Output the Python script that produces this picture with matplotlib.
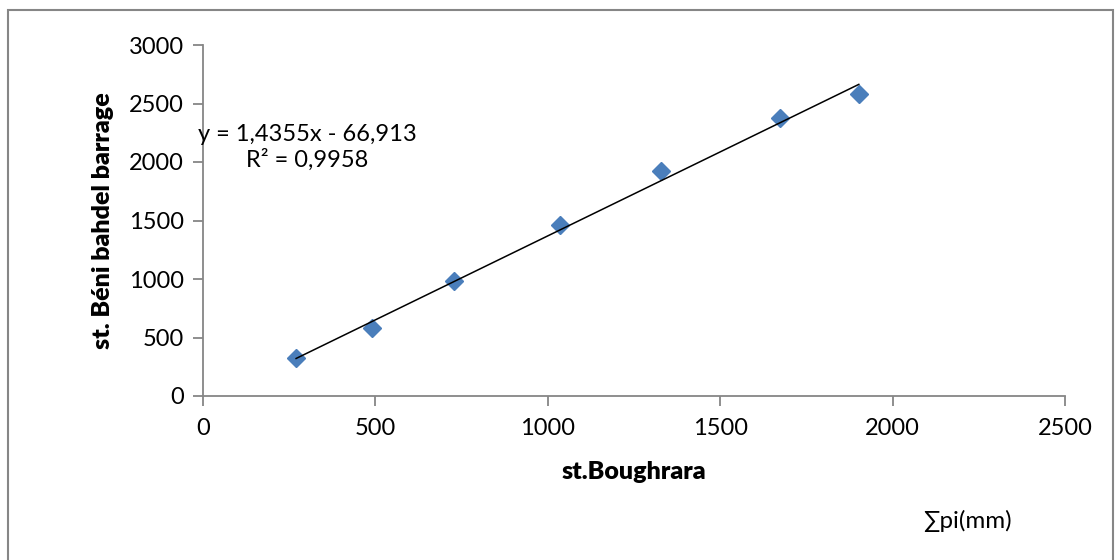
import matplotlib
matplotlib.use("Agg")
import matplotlib.pyplot as plt
from matplotlib.patches import Rectangle
import numpy as np

plt.rcParams['font.family'] = ['Lato', 'DejaVu Sans']

# Cumulative rainfall (mm)
boughrara = [270, 490, 728, 1035, 1328, 1673, 1902]
beni_bahdel = [325, 580, 980, 1460, 1920, 2375, 2580]

# trend line as given on the chart
slope = 1.4355
intercept = -66.913
eq_text = "y = 1,4355x - 66,913\nR² = 0,9958"

x_ticks = [0, 500, 1000, 1500, 2000, 2500]
y_ticks = [0, 500, 1000, 1500, 2000, 2500, 3000]

W, H = 1118, 560
fig = plt.figure(figsize=(W / 100, H / 100), dpi=100)
ax = fig.add_axes([203 / W, 1 - 396 / H, (1065 - 203) / W, (396 - 45) / H])

grey = "#868686"

xs = np.array([min(boughrara), max(boughrara)])
ax.plot(xs, slope * xs + intercept, color="black", lw=1.1, zorder=3)
ax.plot(boughrara, beni_bahdel, linestyle="none", marker="D", ms=8.7,
        color="#4a7ebb", zorder=2)

ax.set_xlim(0, 2500)
ax.set_ylim(0, 3000)
ax.set_xticks(x_ticks)
ax.set_yticks(y_ticks)
ax.tick_params(labelsize=17, colors=grey, labelcolor="black",
               length=7, width=1.3, direction="out")
ax.tick_params(axis="x", pad=9)
ax.tick_params(axis="y", pad=7)
for s in ["top", "right"]:
    ax.spines[s].set_visible(False)
for s in ["left", "bottom"]:
    ax.spines[s].set_color(grey)
    ax.spines[s].set_linewidth(1.3)

ax.set_xlabel("st.Boughrara", fontsize=18, fontweight="heavy")
ax.set_ylabel("st. Béni bahdel barrage", fontsize=18, fontweight="heavy")
ax.xaxis.set_label_coords(0.5, -0.2165)
ax.yaxis.set_label_coords(-0.116, 0.5)
ax.xaxis.label.set_va("center")
ax.yaxis.label.set_va("center")

fig.text(307 / W, 1 - 147 / H, eq_text, ha="center", va="center",
         ma="center", fontsize=17, linespacing=1.2)
fig.text(967 / W, 1 - 521 / H, "∑pi(mm)", ha="center", va="center",
         fontsize=17.4)

fig.patches.append(Rectangle((8 / W, -0.05), (1113 - 8) / W, 1.05 - 10 / H,
                             transform=fig.transFigure, fill=False,
                             edgecolor=grey, lw=1.5))

fig.savefig("out.png", dpi=100)
